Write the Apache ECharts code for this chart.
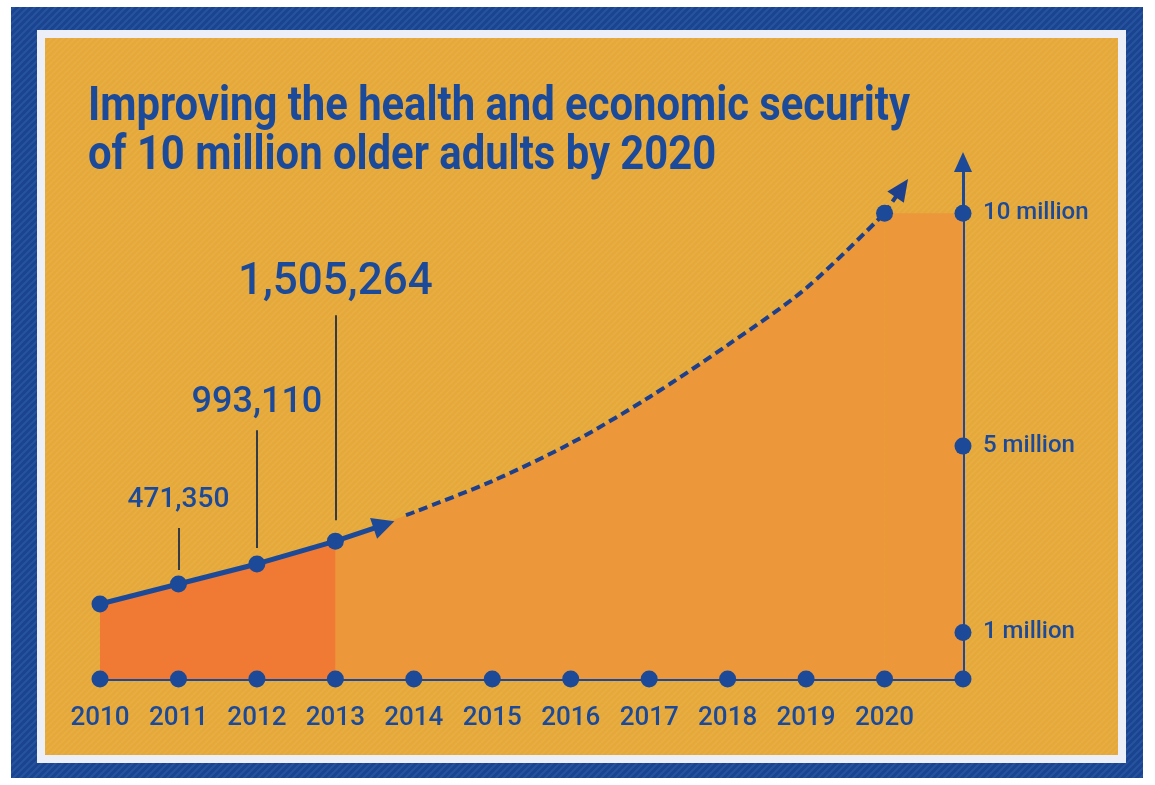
<!DOCTYPE html>
<html><head><meta charset="utf-8">
<script src="https://cdn.jsdelivr.net/npm/echarts@6/dist/echarts.min.js"></script>
<style>html,body{margin:0;padding:0;background:#fff}#c{width:1155px;height:785px}</style>
</head><body><div id="c"></div>
<script>
// ---- data ----
const years = [2010, 2011, 2012, 2013, 2014, 2015, 2016, 2017, 2018, 2019, 2020];
const axisEndYear = 2021;
// reached so far (plotted height, in axis millions, as drawn in the infographic)
const actualYears = [2010, 2011, 2012, 2013];
const actualPlot = [1.61, 2.04, 2.47, 2.96];
// reported figures written above the points
const labelYears = [2011, 2012, 2013];
const labelTexts = ['471,350', '993,110', '1,505,264'];
// projected path to the goal
const projYears = [2013, 2014, 2015, 2016, 2017, 2018, 2019, 2020];
const projPlot = [2.96, 3.58, 4.25, 5.06, 6.05, 7.17, 8.39, 10.0];
const dashStart = [2013.9, 3.52];
const goalYear = 2020, goalValue = 10;
// y axis ticks
const yTickValues = [1, 5, 10];
const yTickLabels = ['1 million', '5 million', '10 million'];
const titleLines = ['Improving the health and economic security', 'of 10 million older adults by 2020'];

// ---- styling ----
const BLUE = '#1C4A98', NAVY = '#1D3F8C', TEXT = '#1C4A9A';
function stripes(bg, fg, size, lw) {
  const c = document.createElement('canvas'); c.width = c.height = size;
  const g = c.getContext('2d'); g.fillStyle = bg; g.fillRect(0, 0, size, size);
  g.strokeStyle = fg; g.lineWidth = lw; g.beginPath();
  g.moveTo(-2, size + 2); g.lineTo(size + 2, -2);
  g.moveTo(-2, 2); g.lineTo(2, -2);
  g.moveTo(size - 2, size + 2); g.lineTo(size + 2, size - 2);
  g.stroke(); return c;
}
const bluePat = stripes('#1A448F', '#27539E', 7, 2);
const orangePat = stripes('#E5A93B', '#E8AE43', 6, 1.5);

const numFont = 'Roboto, "Liberation Sans", sans-serif';
const leaderBottoms = [2.34, 2.81, 3.41];
const leaderTops = [3.24, 5.34, 7.81];
const leaderFont = [28, 36, 44];
const leaderDist = [14, 9, 10];

// condensed title: measure Roboto bold and squeeze horizontally to the drawn width
const titleFont = 'bold 48px Roboto';
const mctx = document.createElement('canvas').getContext('2d');
mctx.font = titleFont;
const titleScale = 822 / mctx.measureText(titleLines[0]).width;

const chart = echarts.init(document.getElementById('c'), null, {renderer: 'canvas'});
chart.setOption({
  animation: false,
  backgroundColor: '#ffffff',
  graphic: [
    {type: 'rect', z: -30, silent: true, shape: {x: 11, y: 7, width: 1132, height: 771}, style: {fill: {image: bluePat, repeat: 'repeat'}}},
    {type: 'rect', z: -29, silent: true, shape: {x: 37, y: 30, width: 1089, height: 733}, style: {fill: '#ECEFF7'}},
    {type: 'rect', z: -28, silent: true, shape: {x: 45, y: 38, width: 1073, height: 717}, style: {fill: {image: orangePat, repeat: 'repeat'}}},
    {type: 'text', z: 10, silent: true, x: 88, y: 108, scaleX: titleScale,
      style: {text: titleLines[0], font: titleFont, fill: TEXT, align: 'left', verticalAlign: 'middle'}},
    {type: 'text', z: 10, silent: true, x: 88, y: 157, scaleX: titleScale,
      style: {text: titleLines[1], font: titleFont, fill: TEXT, align: 'left', verticalAlign: 'middle'}}
  ],
  grid: {left: 100, right: 192, top: 162, bottom: 106, containLabel: false},
  xAxis: {
    type: 'value', min: 2010, max: axisEndYear, interval: 1,
    axisLine: {show: true, onZero: false, lineStyle: {color: BLUE, width: 3}},
    axisTick: {show: false}, splitLine: {show: false},
    axisLabel: {customValues: years, formatter: v => String(v), margin: 26, color: TEXT, fontFamily: numFont, fontWeight: 500, fontSize: 26}
  },
  yAxis: {
    type: 'value', position: 'right', min: 0, max: 11.1,
    axisLine: {show: true, lineStyle: {color: BLUE, width: 3}, symbol: ['none', 'triangle'], symbolSize: [18, 20]},
    axisTick: {show: false}, splitLine: {show: false},
    axisLabel: {customValues: yTickValues, formatter: v => yTickLabels[yTickValues.indexOf(v)], margin: 20, color: TEXT, fontFamily: numFont, fontWeight: 500, fontSize: 24}
  },
  series: [
    {
      type: 'line', name: 'projArea', z: 1, silent: true,
      data: projYears.map((y, i) => [y, projPlot[i]]),
      smooth: 0.3, showSymbol: false,
      lineStyle: {width: 0, opacity: 0}, areaStyle: {color: '#EC973A', opacity: 1}
    },
    {
      type: 'line', name: 'goalArea', z: 1, silent: true,
      data: [[goalYear, goalValue], [axisEndYear, goalValue]],
      showSymbol: false,
      lineStyle: {width: 0, opacity: 0}, areaStyle: {color: '#EC973A', opacity: 1}
    },
    {
      type: 'line', name: 'actual', z: 3, silent: true,
      data: actualYears.map((y, i) => [y, actualPlot[i]]),
      symbol: 'circle', symbolSize: 17, showSymbol: true,
      itemStyle: {color: BLUE}, lineStyle: {color: BLUE, width: 5},
      areaStyle: {color: '#F07934', opacity: 1},
      markLine: {
        silent: true, symbol: ['none', 'triangle'], symbolSize: [22, 22],
        label: {show: false}, lineStyle: {color: BLUE, width: 5, type: 'solid'},
        data: [[{coord: [actualYears[3], actualPlot[3]]}, {coord: [2013.62, 3.31]}]]
      }
    },
    {
      type: 'line', name: 'projection', z: 3, silent: true,
      data: [dashStart].concat(projYears.slice(1).map((y, i) => [y, projPlot[i + 1]])),
      smooth: 0.3, showSymbol: false,
      lineStyle: {color: NAVY, width: 4, type: [9, 5]},
      markLine: {
        silent: true, symbol: ['none', 'triangle'], symbolSize: [20, 22],
        label: {show: false}, lineStyle: {color: NAVY, width: 4, type: [9, 5]},
        data: [[{coord: [goalYear, goalValue]}, {coord: [2020.22, 10.54]}]]
      }
    },
    {
      type: 'scatter', name: 'dots', z: 5, silent: true, symbolSize: 17,
      itemStyle: {color: BLUE, opacity: 1},
      data: years.concat([axisEndYear]).map(y => [y, 0])
        .concat(yTickValues.map(v => [axisEndYear, v]))
        .concat([[goalYear, goalValue]]),
      markLine: {
        silent: true, symbol: ['none', 'none'],
        lineStyle: {color: '#333B48', width: 2, type: 'solid'},
        data: labelYears.map((y, i) => [
          {coord: [y, leaderBottoms[i]]},
          {coord: [y, leaderTops[i]], label: {show: true, position: 'end', distance: leaderDist[i], formatter: labelTexts[i],
            color: TEXT, fontFamily: numFont, fontWeight: 500, fontSize: leaderFont[i], lineHeight: leaderFont[i]}}
        ])
      }
    }
  ]
});
</script></body></html>
